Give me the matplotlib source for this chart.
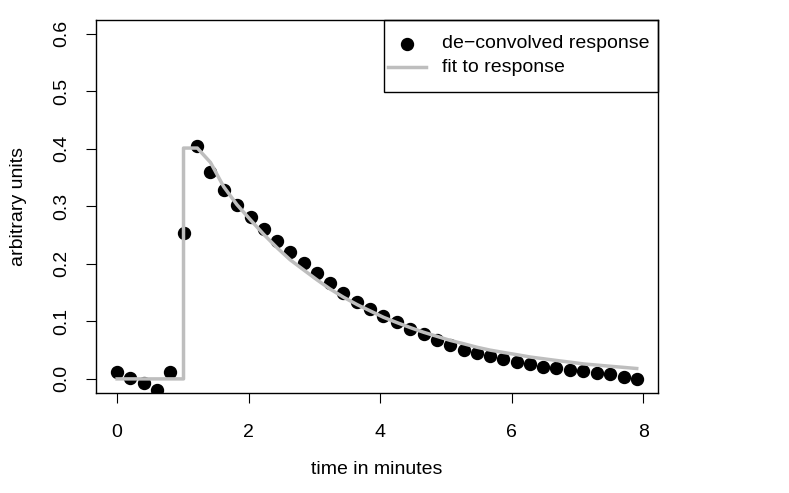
import matplotlib
matplotlib.use("Agg")
import matplotlib.pyplot as plt
from matplotlib.patches import Rectangle
from matplotlib.lines import Line2D

plt.rcParams['font.family'] = ['Liberation Sans', 'DejaVu Sans']

# ---- data ----
time = [0.00, 0.20, 0.41, 0.61, 0.81, 1.01, 1.22, 1.42, 1.62, 1.82,
        2.03, 2.23, 2.43, 2.63, 2.84, 3.04, 3.24, 3.44, 3.65, 3.85,
        4.05, 4.25, 4.46, 4.66, 4.86, 5.06, 5.27, 5.47, 5.67, 5.87,
        6.08, 6.28, 6.48, 6.68, 6.89, 7.09, 7.29, 7.49, 7.70, 7.90]
response = [0.012, 0.002, -0.008, -0.019, 0.012, 0.253, 0.405, 0.360, 0.328, 0.302,
            0.281, 0.260, 0.240, 0.221, 0.202, 0.184, 0.166, 0.150, 0.134, 0.122,
            0.110, 0.098, 0.087, 0.078, 0.068, 0.058, 0.051, 0.045, 0.039, 0.034,
            0.030, 0.026, 0.021, 0.019, 0.016, 0.013, 0.011, 0.008, 0.004, 0.000]
fit_time = time[:6] + [time[5]] + time[6:]
fit_value = [0, 0, 0, 0, 0, 0,
             0.401, 0.401, 0.376, 0.334, 0.303, 0.276, 0.251, 0.228, 0.207, 0.189,
             0.172, 0.156, 0.142, 0.129, 0.118, 0.107, 0.098, 0.089, 0.081, 0.074,
             0.067, 0.061, 0.055, 0.050, 0.046, 0.042, 0.038, 0.035, 0.032, 0.029,
             0.026, 0.024, 0.022, 0.020, 0.018]
x_ticks = [0, 2, 4, 6, 8]
y_ticks = [0.0, 0.1, 0.2, 0.3, 0.4, 0.5, 0.6]
y_tick_labels = ["0.0", "0.1", "0.2", "0.3", "0.4", "0.5", "0.6"]
legend_labels = ["de\u2212convolved response", "fit to response"]

FS = 14
W, H = 789, 493
fig = plt.figure(figsize=(W / 100, H / 100), dpi=100)
L, R, T, B = 96.3, 657.5, 19.7, 392.7
ax = fig.add_axes([L / W, 1 - B / H, (R - L) / W, (B - T) / H])

ax.plot(time, response, 'o', color='black', markersize=8.6, zorder=2)
ax.plot(fit_time, fit_value, '-', color='#BEBEBE', linewidth=2.5, zorder=3,
        solid_joinstyle='round')

rng = 7.9
ax.set_xlim(0 - 0.04 * rng, 7.9 + 0.04 * rng)
ax.set_ylim(0 - 0.04 * 0.6, 0.6 + 0.04 * 0.6)
ax.set_xticks(x_ticks)
ax.set_yticks(y_ticks)
ax.set_yticklabels(y_tick_labels, rotation=90, va='center')
ax.tick_params(axis='both', direction='out', length=7.2, width=0.8,
               labelsize=FS, color='black')
ax.tick_params(axis='x', pad=15)
ax.tick_params(axis='y', pad=11.5)
for s in ax.spines.values():
    s.set_linewidth(1.0)
ax.set_xlabel("time in minutes", fontsize=FS, labelpad=15)
ax.set_ylabel("arbitrary units", fontsize=FS, labelpad=19)

# legend box (R style)
lx0, ly0, lx1, ly1 = 384, 19.7, 657.5, 91.5
fig.patches.append(Rectangle((lx0 / W, 1 - ly1 / H), (lx1 - lx0) / W, (ly1 - ly0) / H,
                             transform=fig.transFigure, fill=False,
                             edgecolor='black', linewidth=1.0, zorder=5))
fig.lines.append(Line2D([407.3 / W], [1 - 44 / H], marker='o', color='black',
                        markersize=8.6, linestyle='none', transform=fig.transFigure))
fig.lines.append(Line2D([388.3 / W, 425.5 / W], [1 - 67 / H, 1 - 67 / H],
                        color='#BEBEBE', linewidth=2.5, transform=fig.transFigure))
fig.text(441.5 / W, 1 - 44 / H, legend_labels[0], fontsize=FS, va='center', ha='left')
fig.text(441.5 / W, 1 - 67 / H, legend_labels[1], fontsize=FS, va='center', ha='left')

fig.savefig("out.png", dpi=100)
